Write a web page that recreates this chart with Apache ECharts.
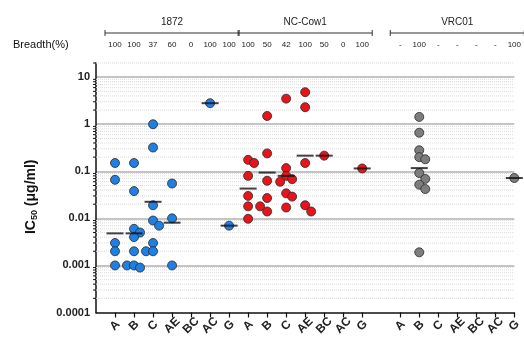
<!DOCTYPE html>
<html>
<head>
<meta charset="utf-8">
<script src="https://cdn.jsdelivr.net/npm/echarts@6/dist/echarts.min.js"></script>
<style>
  html, body { margin: 0; padding: 0; background: #fff; }
  #chart { width: 524px; height: 338px; }
</style>
</head>
<body>
<div id="chart"></div>
<script>
// antibodies (column groups) and virus clades (categories)
const groups = ['1872', 'NC-Cow1', 'VRC01'];
const clades = ['A', 'B', 'C', 'AE', 'BC', 'AC', 'G'];
const breadth = [
  ['100', '100', '37', '60', '0', '100', '100'],
  ['100', '50', '42', '100', '50', '0', '100'],
  ['-', '100', '-', '-', '-', '-', '100']
];

// IC50 values (ug/ml), one list per clade
const ic50_1872 = [
  [0.15, 0.066, 0.003, 0.002, 0.001, 0.001],
  [0.15, 0.038, 0.006, 0.005, 0.004, 0.002, 0.002, 0.001, 0.0009],
  [1.0, 0.32, 0.019, 0.009, 0.007, 0.003, 0.002],
  [0.055, 0.01, 0.001],
  [],
  [2.8],
  [0.007]
];
const ic50_cow1 = [
  [0.175, 0.15, 0.08, 0.03, 0.018, 0.018, 0.0098],
  [1.5, 0.24, 0.063, 0.027, 0.014],
  [3.5, 0.117, 0.08, 0.068, 0.06, 0.034, 0.029, 0.017],
  [4.8, 2.3, 0.15, 0.019, 0.014],
  [0.215],
  [],
  [0.115]
];
const ic50_vrc01 = [
  [],
  [1.43, 0.66, 0.28, 0.2, 0.18, 0.092, 0.069, 0.052, 0.042, 0.0019],
  [], [], [], [],
  [0.072]
];
// geometric medians drawn as short bars
const median_1872 = [0.0048, 0.0048, 0.0225, 0.0081, null, 2.8, 0.007];
const median_cow1 = [0.043, 0.094, 0.08, 0.215, 0.215, null, 0.115];
const median_vrc01 = [null, 0.117, null, null, null, null, 0.072];

const yTickLabels = ['0.0001', '0.001', '0.01', '0.1', '1', '10'];

const allIc50 = [ic50_1872, ic50_cow1, ic50_vrc01];
const allMedian = [median_1872, median_cow1, median_vrc01];
const colors = ['#1f7fe3', '#e8141b', '#7d7d7d'];

// category slots: blank at start and between NC-Cow1 and VRC01
const groupStart = [1, 8, 16];
const cats = new Array(23).fill('');
const topCats = new Array(23).fill('');
groupStart.forEach((s, g) => {
  clades.forEach((c, i) => {
    cats[s + i] = c;
    topCats[s + i] = breadth[g][i];
  });
});

const gridTop = 63, gridBottom = 24;
const yMin = -4, yMax = Math.log10(20);
const pxPerDec = (338 - gridTop - gridBottom) / (yMax - yMin);
const symSize = 9;

// simple beeswarm offsets so overlapping points spread sideways
function swarm(vals) {
  const placed = [];
  return vals.map(v => {
    const y = Math.log10(v) * pxPerDec;
    let dx = 0;
    for (let k = 0; k < 12; k++) {
      const cand = k === 0 ? 0 : (k % 2 ? 1 : -1) * Math.ceil(k / 2) * 6;
      if (placed.every(p => Math.hypot(p.x - cand, p.y - y) >= symSize * 0.7)) { dx = cand; break; }
    }
    placed.push({ x: dx, y: y });
    return dx;
  });
}

const pointSeries = allIc50.map((lists, g) => {
  const data = [];
  lists.forEach((vals, i) => {
    const offs = swarm(vals);
    vals.forEach((v, j) => {
      data.push({ value: [groupStart[g] + i, Math.log10(v)], symbolOffset: [offs[j], 0] });
    });
  });
  return {
    name: groups[g],
    type: 'scatter',
    symbolSize: symSize,
    itemStyle: { color: colors[g], borderColor: '#2a2a2a', borderWidth: 0.8, opacity: 1 },
    data: data,
    z: 3
  };
});

const medianData = [];
allMedian.forEach((arr, g) => {
  arr.forEach((m, i) => {
    if (m != null) medianData.push([groupStart[g] + i, Math.log10(m)]);
  });
});

// minor log ticks (2..9 within each decade)
const minorVals = [];
for (let d = -4; d <= 0; d++) {
  for (let k = 2; k <= 9; k++) minorVals.push([0, Math.log10(k * Math.pow(10, d))]);
}
minorVals.push([0, Math.log10(20)]);

const chart = echarts.init(document.getElementById('chart'));
const font = 'Liberation Sans, Arial, sans-serif';

chart.setOption({
  animation: false,
  textStyle: { fontFamily: font },
  grid: { left: 96, right: 1, top: gridTop, bottom: gridBottom },
  xAxis: [
    {
      type: 'category',
      data: cats,
      boundaryGap: false,
      axisLine: { onZero: false, lineStyle: { color: '#111', width: 1.5 } },
      axisTick: { length: 5, interval: (i, v) => v !== '', lineStyle: { color: '#111', width: 1.2 } },
      axisLabel: {
        interval: 0, rotate: 45, margin: 13, align: 'center', verticalAlign: 'middle',
        fontSize: 12, fontWeight: 'bold', color: '#222'
      },
      splitLine: { show: false }
    },
    {
      type: 'category',
      position: 'top',
      data: topCats,
      boundaryGap: false,
      axisLine: { show: false, onZero: false },
      axisTick: { show: false },
      axisLabel: { interval: 0, margin: 14, fontSize: 8, color: '#222' },
      splitLine: { show: false }
    }
  ],
  yAxis: {
    type: 'value',
    min: yMin,
    max: yMax,
    interval: 1,
    name: 'IC{sub|50} (μg/ml)',
    nameLocation: 'middle',
    nameGap: 57,
    nameTextStyle: {
      fontSize: 14, color: '#111', fontWeight: 'bold', padding: [0, 18, 0, 0],
      rich: { sub: { fontSize: 9, fontWeight: 'bold', color: '#111', verticalAlign: 'bottom', padding: [7, 0, 0, 0] } }
    },
    axisLine: { show: true, onZero: false, lineStyle: { color: '#111', width: 1.5 } },
    axisTick: { length: 5, lineStyle: { color: '#111', width: 1.2 } },
    axisLabel: {
      fontSize: 11, fontWeight: 'bold', color: '#222', margin: 6,
      formatter: v => Math.abs(v - Math.round(v)) < 1e-6 ? yTickLabels[Math.round(v) + 4] : ''
    },
    splitLine: { show: true, showMaxLine: false, showMinLine: false, lineStyle: { color: '#c4c4c4', width: 2 } }
  },
  series: [
    {
      type: 'custom',
      silent: true,
      z: 1,
      data: minorVals,
      renderItem: (params, api) => {
        const cs = params.coordSys;
        const y = api.coord([0, api.value(1)])[1];
        return {
          type: 'group',
          children: [
            { type: 'line', shape: { x1: cs.x, y1: y, x2: cs.x + cs.width, y2: y },
              style: { stroke: '#dcdcdc', lineWidth: 1, lineDash: [1, 1] } },
            { type: 'line', shape: { x1: cs.x - 3, y1: y, x2: cs.x, y2: y },
              style: { stroke: '#111', lineWidth: 1 } }
          ]
        };
      }
    },
    ...pointSeries,
    {
      type: 'scatter',
      symbol: 'rect',
      symbolSize: [17, 2],
      itemStyle: { color: '#111' },
      data: medianData,
      z: 4
    }
  ]
});

// group brackets above the breadth row
const graphics = [{
  type: 'text', left: 13, top: 39,
  style: { text: 'Breadth(%)', font: '11px ' + font, fill: '#111' }
}];
groupStart.forEach((s, g) => {
  const x1 = chart.convertToPixel({ xAxisIndex: 0 }, s) - 10;
  const x2 = chart.convertToPixel({ xAxisIndex: 0 }, s + 6) + 10;
  const y = 33;
  graphics.push(
    { type: 'line', shape: { x1: x1, y1: y, x2: x2, y2: y }, style: { stroke: '#333', lineWidth: 1 } },
    { type: 'line', shape: { x1: x1, y1: y - 3, x2: x1, y2: y + 3 }, style: { stroke: '#333', lineWidth: 1 } },
    { type: 'line', shape: { x1: x2, y1: y - 3, x2: x2, y2: y + 3 }, style: { stroke: '#333', lineWidth: 1 } },
    { type: 'text', x: (x1 + x2) / 2, y: 22,
      style: { text: groups[g], font: '10px ' + font, fill: '#222', align: 'center', verticalAlign: 'middle' } }
  );
});
chart.setOption({ graphic: graphics });
</script>
</body>
</html>
